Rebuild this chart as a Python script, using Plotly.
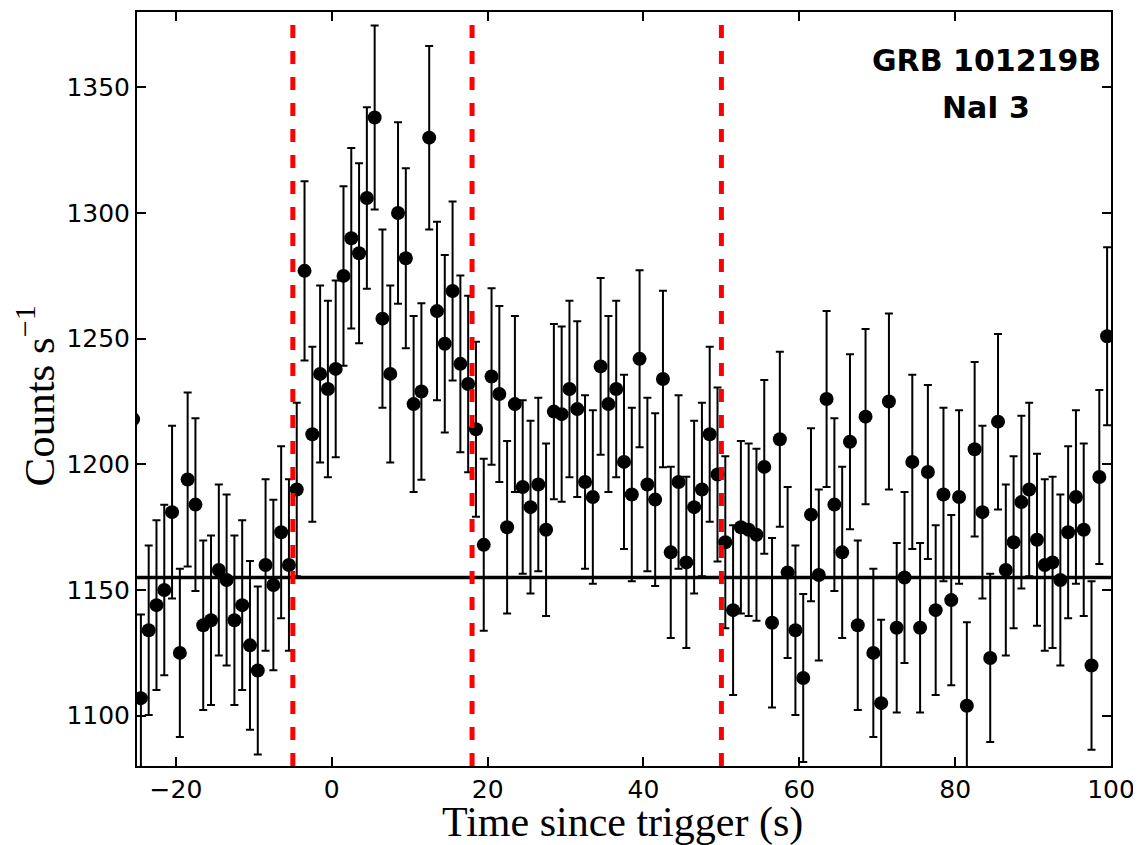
import plotly.graph_objects as go

# ---- data ----
bin_start = -25.5          # centre of first 1-s bin
bin_width = 1.0
rates = [
    1218, 1107, 1134, 1144, 1150, 1181, 1125, 1194, 1184, 1136, 1138, 1158, 1154, 1138, 1144, 1128,
    1118, 1160, 1152, 1173, 1160, 1190,
    1277, 1212, 1236, 1230, 1238, 1275, 1290, 1284, 1306, 1338, 1258, 1236, 1300, 1282, 1224, 1229,
    1330, 1261, 1248, 1269, 1240, 1232, 1214,
    1168, 1235, 1228, 1175, 1224, 1191, 1183, 1192, 1174, 1221, 1220, 1230, 1222, 1193, 1187, 1239,
    1224, 1230, 1201, 1188, 1242, 1192, 1186, 1234, 1165, 1193, 1161, 1183, 1190, 1212, 1196, 1169, 1142,
    1175, 1174, 1172, 1199, 1137, 1210, 1157, 1134, 1115, 1180, 1156, 1226, 1184, 1165, 1209, 1136,
    1219, 1125, 1105, 1225, 1135, 1155, 1201, 1135, 1197, 1142, 1188, 1146, 1187, 1104, 1206, 1181,
    1123, 1217, 1158, 1169, 1185, 1190, 1170, 1160, 1161, 1154, 1173, 1187, 1174, 1120, 1195, 1251,
]
errors = [
    34.9, 33.3, 33.7, 33.8, 33.9, 34.4, 33.5, 34.6, 34.4, 33.7, 33.7, 34.0, 34.0, 33.7, 33.8, 33.6,
    33.4, 34.1, 33.9, 34.2, 34.1, 34.5,
    35.7, 34.8, 35.2, 35.1, 35.2, 35.7, 35.9, 35.8, 36.1, 36.6, 35.5, 35.2, 36.1, 35.8, 35.0, 35.1,
    36.5, 35.5, 35.3, 35.6, 35.2, 35.1, 34.8,
    34.2, 35.1, 35.0, 34.3, 35.0, 34.5, 34.4, 34.5, 34.3, 34.9, 34.9, 35.1, 35.0, 34.5, 34.5, 35.2,
    35.0, 35.1, 34.7, 34.5, 35.2, 34.5, 34.4, 35.1, 34.1, 34.5, 34.1, 34.4, 34.5, 34.8, 34.6, 34.2, 33.8,
    34.3, 34.3, 34.2, 34.6, 33.7, 34.8, 34.0, 33.7, 33.4, 34.4, 34.0, 35.0, 34.4, 34.1, 34.8, 33.7,
    34.9, 33.5, 33.2, 35.0, 33.7, 34.0, 34.7, 33.7, 34.6, 33.8, 34.5, 33.9, 34.5, 33.2, 34.7, 34.4,
    33.5, 34.9, 34.0, 34.2, 34.4, 34.5, 34.2, 34.1, 34.1, 34.0, 34.2, 34.5, 34.3, 33.5, 34.6, 35.4,
]
times = [bin_start + i * bin_width for i in range(len(rates))]

background_level = 1155
interval_edges = [-5, 18, 50]
x_ticks = [-20, 0, 20, 40, 60, 80, 100]
y_ticks = [1100, 1150, 1200, 1250, 1300, 1350]
x_range = [-25, 100]
y_range = [1080, 1380]
label_lines = ["GRB 101219B", "NaI 3"]
x_title = "Time since trigger (s)"
y_title = "Counts s<sup>−1</sup>"

# ---- figure ----
fig = go.Figure()

fig.add_trace(go.Scatter(
    x=times, y=rates, mode="markers",
    marker=dict(color="black", size=14, line=dict(width=0)),
    error_y=dict(type="data", array=errors, visible=True,
                 color="black", thickness=2, width=4),
    showlegend=False, cliponaxis=True,
))

# background level
fig.add_trace(go.Scatter(
    x=x_range, y=[background_level, background_level], mode="lines",
    line=dict(color="black", width=3.5), showlegend=False,
))

# interval markers (red dashed)
for xe in interval_edges:
    fig.add_shape(type="line", xref="x", yref="paper", x0=xe, x1=xe, y0=0, y1=1,
                  line=dict(color="#ff0000", width=5, dash="13px,13px"), layer="above")

# label in the upper right
fig.add_annotation(xref="paper", yref="paper", x=0.872, y=1, yshift=-48,
                   xanchor="center", yanchor="middle", showarrow=False,
                   text="<b>" + label_lines[0] + "</b>",
                   font=dict(family="DejaVu Sans", size=30, color="black"))
fig.add_annotation(xref="paper", yref="paper", x=0.872, y=1, yshift=-95,
                   xanchor="center", yanchor="middle", showarrow=False,
                   text="<b>" + label_lines[1] + "</b>",
                   font=dict(family="DejaVu Sans", size=30, color="black"))

# axis titles
fig.add_annotation(xref="paper", yref="paper", x=0.498, y=0, yshift=-56,
                   xanchor="center", yanchor="middle", showarrow=False,
                   text=x_title,
                   font=dict(family="Liberation Serif", size=42, color="black"))
fig.add_annotation(xref="paper", yref="paper", x=0, y=0.49, xshift=-102,
                   xanchor="center", yanchor="middle", showarrow=False,
                   text=y_title, textangle=-90,
                   font=dict(family="Liberation Serif", size=43, color="black"))

axis_common = dict(
    showline=True, linecolor="black", linewidth=2, mirror="ticks",
    ticks="inside", ticklen=9, tickwidth=2, tickcolor="black",
    showgrid=False, zeroline=False, automargin=False,
    tickfont=dict(family="DejaVu Sans", size=25, color="black"),
)

fig.update_xaxes(range=x_range, tickvals=x_ticks, **axis_common)
fig.update_yaxes(range=y_range, tickvals=y_ticks, **axis_common)

# page body adds an 8 px offset, so the figure is 8 px smaller on each side
fig.update_layout(
    width=1133, height=837,
    margin=dict(l=129, r=30, t=4, b=79),
    paper_bgcolor="white", plot_bgcolor="white",
    showlegend=False,
)

fig.write_html("out.html")
